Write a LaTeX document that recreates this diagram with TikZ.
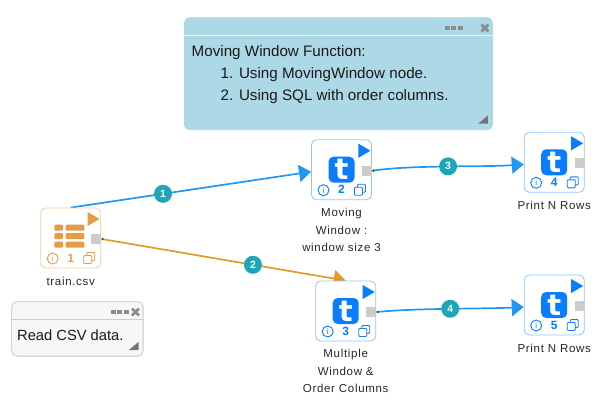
\documentclass[tikz,border=0pt]{standalone}
\usepackage{fontspec}
\setmainfont{Liberation Sans}
\newfontfamily\labelfont[LetterSpace=6]{Liberation Sans}
\newfontfamily\logofont{DejaVu Sans}
\usetikzlibrary{arrows.meta,shapes.geometric,backgrounds}
\definecolor{toolblue}{HTML}{0A7CFF}
\definecolor{toolorange}{HTML}{E59C47}
\definecolor{edgeblue}{HTML}{2196F3}
\definecolor{edgeorange}{HTML}{E39B25}
\definecolor{badgeteal}{HTML}{1EA5B8}
\definecolor{notefill}{HTML}{ADD8E6}
\tikzset{
  toolbox/.style={draw, fill=white, rounded corners=5pt, minimum size=60pt, inner sep=0pt, line width=0.8pt},
  logo/.style={fill=toolblue, text=white, rounded corners=5pt, minimum size=26pt, inner sep=0pt, font=\logofont\fontsize{29}{29}\selectfont\bfseries},
  play/.style={isosceles triangle, isosceles triangle stretches, fill, minimum width=14pt, minimum height=12pt, inner sep=0pt},
  port/.style={fill=black!20, minimum size=10pt, inner sep=0pt},
  info/.style={draw, circle, minimum size=11pt, inner sep=0pt, line width=0.9pt, font=\fontsize{8}{8}\selectfont},
  number/.style={font=\fontsize{12}{12}\selectfont\bfseries},
  caption/.style={align=center, inner sep=0pt, font=\labelfont\fontsize{11.5}{17.5}\selectfont, text=black!85},
  note/.style={draw, rounded corners=5pt, anchor=north west, line width=0.8pt},
  notetext/.style={anchor=west, align=left, inner sep=0pt, font=\fontsize{15.2}{22}\selectfont, text=black!90},
  conn/.style={-{Triangle[length=12pt,width=17pt]}, line width=1.7pt},
  badge/.style={circle, fill=badgeteal, text=white, minimum size=18pt, inner sep=0pt, font=\fontsize{10.5}{10.5}\selectfont\bfseries},
}
% play button, port and bottom row of a tool node
\newcommand{\toolparts}[3]{
\node at ([shift={(21,-19)}]#1.center)[play, #2](#1play){};
\node at ([shift={(25.7,1)}]#1.center)[port](#1port){};
\node at ([shift={(-18,20.5)}]#1.center)[info, #2, text=#2](#1info){i};
\node at ([shift={(0,20)}]#1.center)[number, text=#2](#1num){#3};
\draw [#2, line width=0.9pt, rounded corners=1pt] ([shift={(16,22.5)}]#1.center) rectangle ++(8,-8);
\draw [#2, fill=white, line width=0.9pt, rounded corners=1pt] ([shift={(13,25.5)}]#1.center) rectangle ++(8,-8);
}
% title bar and handle of a note
\newcommand{\noteparts}[3]{
\draw [#2] ([yshift=-18pt]#1.north west) -- ([yshift=-18pt]#1.north east);
\draw [black!45, line width=4pt, dash pattern=on 5pt off 1.5pt] ([shift={(-#3,10.7)}]#1.north east) --++ (18,0);
\draw [black!45, line width=2.8pt] ([shift={(-11.5,7.2)}]#1.north east) --++ (7,7);
\draw [black!45, line width=2.8pt] ([shift={(-11.5,14.2)}]#1.north east) --++ (7,-7);
\fill [black!55] ([shift={(-14.5,-6.5)}]#1.south east) --++ (9.5,0) --++ (0,-8) -- cycle;
}

\begin{document}
\begin{tikzpicture}[x=1pt, y=-1pt, >=latex]
\useasboundingbox (0,0) rectangle (609,415);
% notes
\node at (184,17.3)[note, fill=notefill, draw=notefill, minimum width=308pt, minimum height=112pt](noteA){};
\noteparts{noteA}{white!70!notefill}{48}
\node at (191.5,74.5)[notetext](noteAtext){Moving Window Function:\\\hspace*{29pt}1. Using MovingWindow node.\\\hspace*{29pt}2. Using SQL with order columns.};
\node at (11.3,301.3)[note, fill=black!3, draw=black!22, minimum width=131.4pt, minimum height=54.4pt](noteB){};
\noteparts{noteB}{black!20}{33}
\node at (17,335.7)[notetext, font=\fontsize{14.7}{22}\selectfont](noteBtext){Read CSV data.};
% tool nodes
\node at (70.7,238)[toolbox, draw=toolorange!50](train){};
\fill [toolorange, rounded corners=1pt] (54.3,224.7) rectangle (63,230.7);
\fill [toolorange, rounded corners=1pt] (65.7,224.7) rectangle (84.3,230.7);
\fill [toolorange, rounded corners=1pt] (54.3,233.2) rectangle (63,239.2);
\fill [toolorange, rounded corners=1pt] (65.7,233.2) rectangle (84.3,239.2);
\fill [toolorange, rounded corners=1pt] (54.3,241.7) rectangle (63,247.7);
\fill [toolorange, rounded corners=1pt] (65.7,241.7) rectangle (84.3,247.7);
\toolparts{train}{toolorange}{1}
\node at (341.5,169.7)[toolbox, draw=toolblue!45](mw){};
\node at (mw.center)[logo](mwlogo){t};
\toolparts{mw}{toolblue}{2}
\node at (345.7,311)[toolbox, draw=toolblue!45](sql){};
\node at (sql.center)[logo](sqllogo){t};
\toolparts{sql}{toolblue}{3}
\node at (554.2,162.3)[toolbox, draw=toolblue!45](printA){};
\node at (printA.center)[logo](printAlogo){t};
\toolparts{printA}{toolblue}{4}
\node at (554.2,305)[toolbox, draw=toolblue!45](printB){};
\node at (printB.center)[logo](printBlogo){t};
\toolparts{printB}{toolblue}{5}
% captions
\node at (train.south)[below, yshift=-9pt, caption]{train.csv};
\node at (mw.south)[below, yshift=-8pt, caption]{Moving\\Window :\\window size 3};
\node at (sql.south)[below, yshift=-8pt, caption]{Multiple\\Window \&\\Order Columns};
\node at (printA.south)[below, yshift=-8pt, caption]{Print N Rows};
\node at (printB.south)[below, yshift=-9pt, caption]{Print N Rows};
% connectors
\begin{scope}[on background layer]
\draw [conn, edgeblue] (train.north) -- ([yshift=-2pt]mw.west) node[badge, pos=0.384](b1){1};
\draw [conn, edgeorange] (trainport.east) -- (sql.north) node[badge, pos=0.62](b2){2};
\draw [conn, edgeblue] (mwport.east) .. controls +(40,-6) and +(-40,3) .. ([yshift=-2pt]printA.west) node[badge, pos=0.5](b3){3};
\draw [conn, edgeblue] (sqlport.east) .. controls +(40,-4) and +(-40,2) .. ([yshift=-2pt]printB.west) node[badge, pos=0.5](b4){4};
\end{scope}
\fill [green!45!black] ([xshift=1pt]trainport.east) circle (1.3);
\fill [green!45!black] ([xshift=1pt]mwport.east) circle (1.3);
\fill [green!45!black] ([xshift=1pt]sqlport.east) circle (1.3);
\end{tikzpicture}
\end{document}
